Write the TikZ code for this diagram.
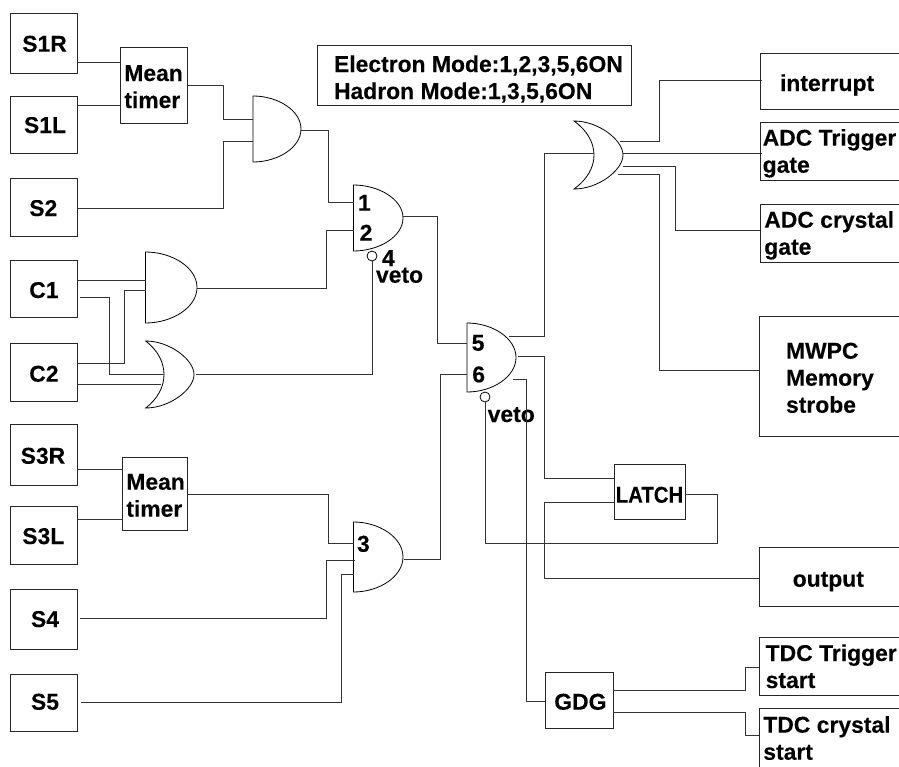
\documentclass[tikz,border=0pt]{standalone}
\usepackage{fontspec}
\setmainfont{Liberation Sans}[BoldFeatures={FakeBold=0.2}]
\tikzset{
  box/.style={draw=black!85,line width=1pt,rectangle,inner sep=0pt,outer sep=0pt,font=\fontsize{22.9}{27}\selectfont\bfseries},
  wire/.style={draw=black!80,line width=1pt,line join=miter},
  gatebox/.style={rectangle,inner sep=0pt,outer sep=0pt},
  gateline/.style={draw=black,line width=.8pt},
  lbl/.style={inner sep=0pt,outer sep=0pt,anchor=base west,font=\fontsize{22.9}{27}\selectfont\bfseries},
  bubble/.style={circle,draw=black,fill=white,line width=.8pt,inner sep=0pt,minimum size=10pt}
}
% name x1 y1 x2 y2 textleft firstbaseline text
\newcommand\bx[8]{%
  \pgfmathsetmacro\cxx{(#2+#4)/2}\pgfmathsetmacro\cyy{(#3+#5)/2}%
  \pgfmathsetmacro\ddx{#6-\cxx}\pgfmathsetmacro\ddy{\cyy-#7}%
  \node[box,minimum width={(#4-#2)*1pt},minimum height={(#5-#3)*1pt}] (#1) at (\cxx,\cyy)
    {\rlap{\hspace*{\ddx pt}\raisebox{\ddy pt}[0pt][0pt]{\begin{tabular}[t]{@{}l@{}}#8\end{tabular}}}};%
}
% name x1 y1 x2 y2
\newcommand\andg[5]{%
  \pgfmathsetmacro\cxx{(#2+#4)/2}\pgfmathsetmacro\cyy{(#3+#5)/2}%
  \pgfmathsetmacro\cax{#2+.52*(#4-#2)}\pgfmathsetmacro\cay{#3+.22*(#5-#3)}\pgfmathsetmacro\cby{#5-.22*(#5-#3)}%
  \node[gatebox,minimum width={(#4-#2)*1pt},minimum height={(#5-#3)*1pt}] (#1) at (\cxx,\cyy) {};%
  \draw[gateline] (#1.north west) .. controls (\cax,#3) and (#4,\cay) .. (#1.east)
     .. controls (#4,\cby) and (\cax,#5) .. (#1.south west) -- cycle;%
}
% name x1 y1 x2 y2 innerreach
\newcommand\org[6]{%
  \pgfmathsetmacro\cxx{(#2+#4)/2}\pgfmathsetmacro\cyy{(#3+#5)/2}%
  \pgfmathsetmacro\cax{#2+.5*(#4-#2)}\pgfmathsetmacro\cay{#3+.28*(#5-#3)}\pgfmathsetmacro\cby{#5-.28*(#5-#3)}%
  \pgfmathsetmacro\cix{#2+1.333*(#6-#2)}%
  \node[gatebox,minimum width={(#4-#2)*1pt},minimum height={(#5-#3)*1pt}] (#1) at (\cxx,\cyy) {};%
  \draw[gateline] (#1.north west) .. controls (\cax,#3) and (#4,\cay) .. (#1.east)
     .. controls (#4,\cby) and (\cax,#5) .. (#1.south west)
     .. controls (\cix,\cby) and (\cix,\cay) .. cycle;%
}
\begin{document}
\begin{tikzpicture}[x=1pt,y=-1pt]
\useasboundingbox (0,0) rectangle (899,766);
\clip (0,0) rectangle (899,766);
% left column
\bx{sOneR}{10.5}{13.5}{77.5}{73}{22.3}{51.7}{S1R}
\bx{sOneL}{10.5}{96}{77.5}{153}{24}{133}{S1L}
\bx{sTwo}{10.5}{178}{77.5}{236}{29.3}{216}{S2}
\bx{cOne}{10.5}{260}{77.5}{317}{29.3}{298}{C1}
\bx{cTwo}{10.5}{343}{77.5}{401}{29.3}{381.7}{C2}
\bx{sThreeR}{10.5}{424}{77.5}{485}{20.7}{463.7}{S3R}
\bx{sThreeL}{10.5}{506}{77.5}{564}{22.3}{544}{S3L}
\bx{sFour}{10.5}{589}{77.5}{649}{31}{627}{S4}
\bx{sFive}{10.5}{674}{77.5}{731}{31}{709.7}{S5}
% mean timers
\bx{mtOne}{120.5}{47.5}{187}{123}{124.3}{81}{Mean\\timer}
\bx{mtTwo}{122}{457}{187.5}{530}{126.3}{489.7}{Mean\\timer}
% legend
\bx{legend}{317}{45}{631}{105}{334}{72}{Electron Mode:1,2,3,5,6ON\\Hadron Mode:1,3,5,6ON}
% right column
\bx{interrupt}{760}{53}{905}{109}{780}{91}{interrupt}
\bx{adcT}{760}{122}{905}{180}{762.7}{145.7}{ADC Trigger\\gate}
\bx{adcC}{760}{204}{905}{262}{764.3}{227.7}{ADC crystal\\gate}
\bx{mwpc}{759}{316}{905}{436}{786}{358.7}{MWPC\\Memory\\strobe}
\bx{output}{759}{547}{905}{606}{792.7}{586.7}{output}
\bx{tdcT}{759}{637}{905}{695}{765.7}{661}{TDC Trigger\\start}
\bx{tdcC}{759}{708}{905}{780}{763.3}{732.7}{TDC crystal\\start}
% mid blocks
\bx{latch}{614}{464}{685}{519}{615.7}{502.7}{\scalebox{.89}[1]{LATCH}}
\bx{gdg}{545}{672}{613}{728}{554.3}{709.7}{GDG}
% gates
\andg{gA}{253}{96}{301}{162}
\andg{gB}{353.5}{185}{403}{251}
\andg{gC}{145.5}{252}{197}{323}
\org{gD}{145.7}{341}{194}{408}{164}
\andg{gE}{353.5}{522}{403}{592}
\andg{gF}{467}{323}{516}{392}
\org{gG}{574}{121}{623}{189}{594}
\node[bubble] (vetoA) at (372,256) {};
\node[bubble] (vetoB) at (485,397) {};
% gate labels
\node[lbl] (tOne) at (358,210.7) {1};
\node[lbl] (tTwo) at (359.7,240.7) {2};
\node[lbl] (tThree) at (357,551.7) {3};
\node[lbl] (tFour) at (382,266) {4};
\node[lbl] (tFive) at (471.7,350.7) {5};
\node[lbl] (tSix) at (472.3,382.3) {6};
\node[lbl] (tVetoA) at (376,282.7) {veto};
\node[lbl] (tVetoB) at (487.7,422) {veto};
% wires, left part
\draw[wire] (sOneR.east|-0,62) -- (mtOne.west|-0,62);
\draw[wire] (sOneL.east|-0,105) -- (mtOne.west|-0,105);
\draw[wire] (mtOne.east|-0,85) -| (223,119) -- (gA.west|-0,119);
\draw[wire] (sTwo.east|-0,208) -| (223,141.5) -- (gA.west|-0,141.5);
\draw[wire] (gA.east|-0,130) -| (328,202) -- (gB.west|-0,202);
\draw[wire] (gC.east|-0,288) -| (326.5,230) -- (gB.west|-0,230);
\draw[wire] (cOne.east|-0,280) -- (gC.west|-0,280);
\draw[wire] (cTwo.east|-0,363) -| (124,290) -- (gC.west|-0,290);
\draw[wire] ([xshift=2.5pt]cOne.east|-0,297) -| (109,374) -- ([xshift=18.3pt]gD.west|-0,374);
\draw[wire] (cTwo.east|-0,384) -- ([xshift=15pt]gD.west|-0,384);
\draw[wire] ([xshift=2pt]gD.east|-0,374.5) -| (vetoA.south);
\draw[wire] (gB.east|-0,216) -| (437,343) -- (gF.west|-0,343);
\draw[wire] ([xshift=1pt]gE.east|-0,559) -| (440,374) -- (gF.west|-0,374);
\draw[wire] (mtTwo.east|-0,494) -| (328,543) -- (gE.west|-0,543);
\draw[wire] (sThreeR.east|-0,469) -- (mtTwo.west|-0,469);
\draw[wire] (sThreeL.east|-0,519) -- (mtTwo.west|-0,519);
\draw[wire] ([xshift=2.5pt]sFour.east|-0,618) -| (326.5,560) -- ([xshift=1.5pt]gE.west|-0,560);
\draw[wire] ([xshift=3.5pt]sFive.east|-0,702) -| (341,574) -- (gE.west|-0,574);
% wires, right part
\draw[wire] ([xshift=-7pt]gF.east|-0,336) -| (544,153) -- ([xshift=19.5pt]gG.west|-0,153);
\draw[wire] ([xshift=-3pt]gG.east|-0,141) -| (659,80) -- ([xshift=2pt]interrupt.west|-0,80);
\draw[wire] (gG.east|-0,153) -- ([xshift=2pt]adcT.west|-0,153);
\draw[wire] (gG.east|-0,166) -| (675,230) -- (adcC.west|-0,230);
\draw[wire] ([xshift=-5pt]gG.east|-0,174) -| (659,370) -- (mwpc.west|-0,370);
\draw[wire] ([xshift=2pt]gF.east|-0,356) -| (544,478) -- (latch.west|-0,478);
\draw[wire] (latch.west|-0,502) -| (544,578) -- (output.west|-0,578);
\draw[wire] ([xshift=-3pt]gF.east|-0,379) -| (526,701) -- (gdg.west|-0,701);
\draw[wire] (latch.east|-0,494) -| (717,543) -| (vetoB.south);
\draw[wire] (gdg.east|-0,690) -| (745,667) -- (tdcT.west|-0,667);
\draw[wire] (gdg.east|-0,712) -| (745,735) -- (tdcC.west|-0,735);
\end{tikzpicture}
\end{document}
